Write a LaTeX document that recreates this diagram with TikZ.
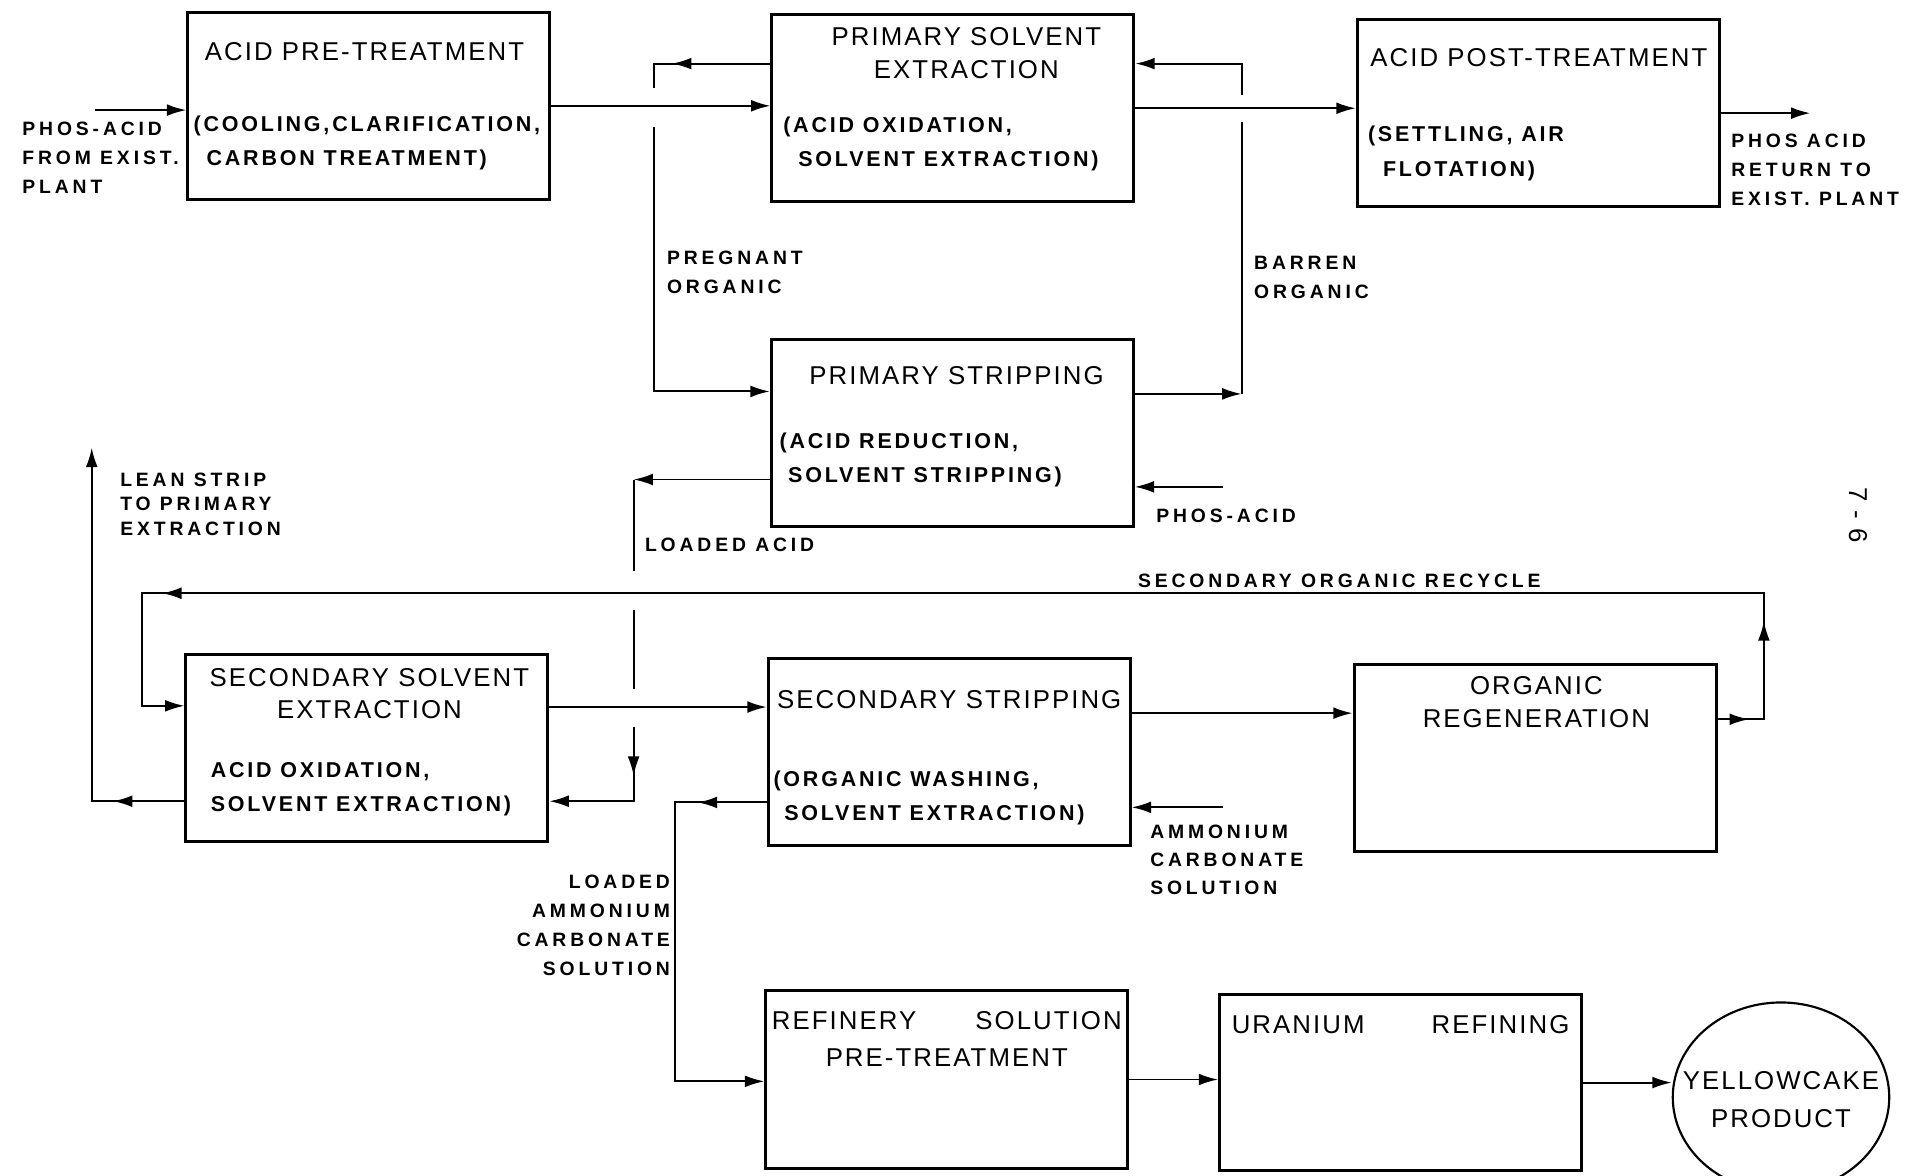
\documentclass[tikz,border=0pt]{standalone}
\usepackage{fontspec}
\setmainfont{Liberation Sans}
\newfontfamily\ttlfamily{Liberation Sans}[LetterSpace=8]
\newfontfamily\subfamily{Liberation Sans}[LetterSpace=13]
\newfontfamily\lblfamily{Liberation Sans}[LetterSpace=20]
\usetikzlibrary{arrows.meta,decorations.markings,shapes.geometric}
\tikzset{
  procbox/.style={draw, line width=1.4pt, minimum width=5.92cm, minimum height=3.06cm, inner sep=0pt},
  ttl/.style={font=\ttlfamily\fontsize{12}{15.3}\selectfont, align=center, inner sep=0pt},
  sub/.style={font=\subfamily\bfseries\fontsize{10}{15.9}\selectfont, align=left, anchor=west, inner sep=0pt},
  lbl/.style={font=\lblfamily\bfseries\fontsize{9}{13.5}\selectfont, align=left, anchor=west, inner sep=0pt},
  pipe/.style={line width=0.9pt},
  flow/.style={pipe, -{Latex[length=9pt,width=5.5pt]}},
  arrat/.style={postaction={decorate, decoration={markings, mark=at position #1 with {\arrow{Latex[length=9pt,width=5.5pt]}}}}},
}
\begin{document}
\begin{tikzpicture}[x=0.02cm, y=-0.02cm]
\useasboundingbox (0,0) rectangle (1568,961);

\node[procbox] (apre) at (301.5,86.5) {};
\node[procbox] (pse) at (779,88.5) {};
\node[procbox] (apost) at (1257.5,92.5) {};
\node[procbox] (pst) at (778.5,354) {};
\node[procbox] (sse) at (300,611.5) {};
\node[procbox] (sst) at (776,614.5) {};
\node[procbox] (oreg) at (1255,620) {};
\node[procbox, minimum height=2.9cm] (rsp) at (774,882.5) {};
\node[procbox, minimum height=2.88cm] (uref) at (1145,885) {};
\node[draw, line width=1pt, ellipse, minimum width=3.54cm, minimum height=3.1cm] (ycake) at (1456,897) {};

\node[ttl] (apreT) at (298,42) {ACID PRE-TREATMENT};
\node[sub] (apreS) at (158,117) {(COOLING,CLARIFICATION,\\\hspace*{0.6em}CARBON TREATMENT)};
\node[ttl] (pseT) at (790,43.5) {PRIMARY SOLVENT\\EXTRACTION};
\node[sub] (pseS) at (640,118) {(ACID OXIDATION,\\\hspace*{0.7em}SOLVENT EXTRACTION)};
\node[ttl] (apostT) at (1258,47) {ACID POST-TREATMENT};
\node[sub] (apostS) at (1118,125.5) {(SETTLING, AIR\\\hspace*{0.7em}FLOTATION)};
\node[ttl] (pstT) at (782,307) {PRIMARY STRIPPING};
\node[sub] (pstS) at (637,376) {(ACID REDUCTION,\\\hspace*{0.4em}SOLVENT STRIPPING)};
\node[ttl] (sseT) at (302,567) {SECONDARY SOLVENT\\EXTRACTION};
\node[sub] (sseS) at (172,645.5) {ACID OXIDATION,\\SOLVENT EXTRACTION)};
\node[ttl] (sstT) at (776,572) {SECONDARY STRIPPING};
\node[sub] (sstS) at (632,652) {(ORGANIC WASHING,\\\hspace*{0.5em}SOLVENT EXTRACTION)};
\node[ttl] (oregT) at (1256,574) {ORGANIC\\REGENERATION};
\node[ttl] (rspT) at (774,849.5) {\makebox[5.72cm]{REFINERY\hfill SOLUTION}\\[2pt]PRE-TREATMENT};
\node[ttl] (urefT) at (1145,838) {\makebox[5.52cm]{URANIUM\hfill REFINING}};
\node[ttl] (ycakeT) at (1456,899) {YELLOWCAKE\\[2pt]PRODUCT};

\node[lbl] (phIn) at (18,129) {PHOS-ACID\\FROM EXIST.\\PLANT};
\node[lbl] (phOut) at (1415,139) {PHOS ACID\\RETURN TO\\EXIST. PLANT};
\node[lbl] (preg) at (545,223) {PREGNANT\\ORGANIC};
\node[lbl] (barr) at (1025,226.5) {BARREN\\ORGANIC};
\node[lbl] (phos) at (945,422) {PHOS-ACID};
\node[lbl] (ldacid) at (527,445) {LOADED ACID};
\node[lbl, font=\lblfamily\bfseries\fontsize{9}{11.4}\selectfont] (lean) at (98,412) {LEAN STRIP\\TO PRIMARY\\EXTRACTION};
\node[lbl] (recyc) at (930,475) {SECONDARY ORGANIC RECYCLE};
\node[lbl, font=\lblfamily\bfseries\fontsize{9}{13}\selectfont] (amcarb) at (940,703) {AMMONIUM\\CARBONATE\\SOLUTION};
\node[lbl, anchor=east, align=right] (ldamm) at (548,756.5) {LOADED\\AMMONIUM\\CARBONATE\\SOLUTION};
\node[ttl, rotate=-90] (pgno) at (1519,421) {7 - 6};

\coordinate (aIn) at (78,90);
\coordinate (cOut) at (1480,92.5);
\coordinate (paIn) at (1000,398);
\coordinate (acIn) at (1000,660);
\coordinate (pg1) at (535,52);
\coordinate (pg2) at (535,72);
\coordinate (pg3) at (535,104);
\coordinate (pg4) at (535,320);
\coordinate (br1) at (1015,322);
\coordinate (br2) at (1015,100);
\coordinate (br3) at (1015,78);
\coordinate (br4) at (1015,52);
\coordinate (la1) at (518,392);
\coordinate (la2) at (518,467);
\coordinate (la3) at (518,499);
\coordinate (la4) at (518,563);
\coordinate (la5) at (518,594);
\coordinate (la6) at (518,655);
\coordinate (rc1) at (1442,588);
\coordinate (rc2) at (1442,485);
\coordinate (rc3) at (116,485);
\coordinate (rc4) at (116,577);
\coordinate (ls1) at (75,655);
\coordinate (ls2) at (75,366);
\coordinate (lc1) at (552,656);
\coordinate (lc2) at (552,884);

\draw[flow] (aIn) -- (aIn -| apre.west);
\draw[flow] (apre.east) -- (apre.east -| pse.west);
\draw[flow] (pse.east) -- (pse.east -| apost.west);
\draw[flow] (apost.east) -- (cOut);
\draw[pipe, arrat=0.7] (pg1 -| pse.west) -- (pg1) -- (pg2);
\draw[flow] (pg3) -- (pg4) -- (pg4 -| pst.west);
\draw[flow] (br1 -| pst.east) -- (br1);
\draw[pipe] (br1) -- (br2);
\draw[flow] (br3) -- (br4) -- (br4 -| pse.east);
\draw[flow] (paIn) -- (paIn -| pst.east);
\draw[flow] (la1 -| pst.west) -- (la1);
\draw[pipe] (la1) -- (la2);
\draw[pipe] (la3) -- (la4);
\draw[flow, arrat=0.31] (la5) -- (la6) -- (la6 -| sse.east);
\draw[flow, arrat=0.016, arrat=0.074, arrat=0.91] (rc1 -| oreg.east) -- (rc1) -- (rc2) -- (rc3) -- (rc4) -- (rc4 -| sse.west);
\draw[flow, arrat=0.16] (ls1 -| sse.west) -- (ls1) -- (ls2);
\draw[flow] ([yshift=0.67cm]sse.east) -- ([yshift=0.67cm]sse.east -| sst.west);
\draw[flow] ([yshift=0.63cm]sst.east) -- ([yshift=0.63cm]sst.east -| oreg.west);
\draw[flow] (acIn) -- (acIn -| sst.east);
\draw[flow, arrat=0.15] (lc1 -| sst.west) -- (lc1) -- (lc2) -- (lc2 -| rsp.west);
\draw[flow] (rsp.east) -- (rsp.east -| uref.west);
\draw[flow] (uref.east) -- (uref.east -| ycake.west);
\end{tikzpicture}
\end{document}
